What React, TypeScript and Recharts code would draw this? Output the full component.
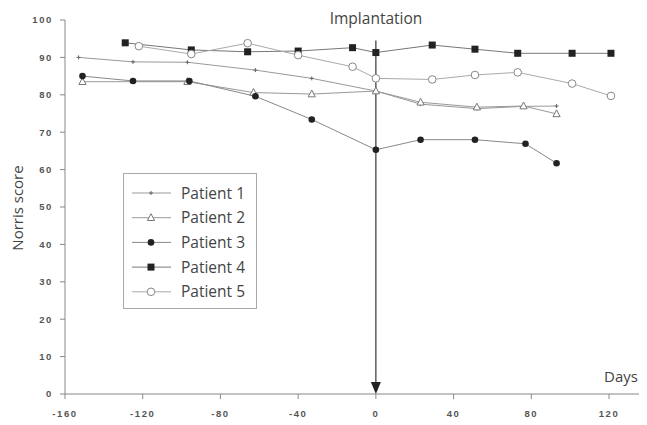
import React from "react"
import { LineChart, Line, XAxis, YAxis, ReferenceLine, ReferenceDot, Legend } from "recharts"

// days relative to implantation, Norris score
const p1Days = [-153, -125, -97, -62, -33, 0, 23, 52, 76, 93]
const p1Scores = [90, 88.8, 88.7, 86.6, 84.4, 81, 77.5, 76.3, 76.9, 77]

const p2Days = [-151, -97, -63, -33, 0, 23, 52, 76, 93]
const p2Scores = [83.5, 83.5, 80.6, 80.2, 81, 78, 76.7, 77, 74.9]

const p3Days = [-151, -125, -96, -62, -33, 0, 23, 51, 77, 93]
const p3Scores = [85, 83.7, 83.7, 79.6, 73.4, 65.3, 68, 68, 66.9, 61.7]

const p4Days = [-129, -95, -66, -40, -12, 0, 29, 51, 73, 101, 121]
const p4Scores = [93.9, 92, 91.5, 91.7, 92.6, 91.3, 93.3, 92.2, 91.1, 91.1, 91.1]

const p5Days = [-122, -95, -66, -40, -12, 0, 29, 51, 73, 101, 121]
const p5Scores = [93, 90.9, 93.8, 90.6, 87.5, 84.4, 84.1, 85.3, 86, 83, 79.7]

const xTicks = [-160, -120, -80, -40, 0, 40, 80, 120]
const yTicks = [0, 10, 20, 30, 40, 50, 60, 70, 80, 90, 100]

const toPoints = (days: number[], scores: number[]) => days.map((d, i) => ({ day: d, score: scores[i] }))

const dark = "#222"

const Cross = ({ cx, cy }: any) => (
  <g>
    <line x1={cx - 2} x2={cx + 2} y1={cy} y2={cy} stroke="#666" strokeWidth={1} />
    <line x1={cx} x2={cx} y1={cy - 2} y2={cy + 2} stroke="#666" strokeWidth={1} />
  </g>
)
const Triangle = ({ cx, cy }: any) => (
  <polygon points={`${cx},${cy - 4} ${cx - 3.6},${cy + 2.8} ${cx + 3.6},${cy + 2.8}`} fill="#fff" stroke="#777" strokeWidth={1} />
)
const Dot = ({ cx, cy }: any) => <circle cx={cx} cy={cy} r={3.3} fill={dark} />
const Square = ({ cx, cy }: any) => <rect x={cx - 3.5} y={cy - 3.5} width={7} height={7} fill={dark} />
const Ring = ({ cx, cy }: any) => <circle cx={cx} cy={cy} r={3.8} fill="#fff" stroke="#888" strokeWidth={1} />

const series = [
  { name: "Patient 1", data: toPoints(p1Days, p1Scores), color: "#999", Mark: Cross },
  { name: "Patient 2", data: toPoints(p2Days, p2Scores), color: "#999", Mark: Triangle },
  { name: "Patient 3", data: toPoints(p3Days, p3Scores), color: "#888", Mark: Dot },
  { name: "Patient 4", data: toPoints(p4Days, p4Scores), color: "#777", Mark: Square },
  { name: "Patient 5", data: toPoints(p5Days, p5Scores), color: "#aaa", Mark: Ring },
]

const tickStyle = { fontFamily: "Liberation Sans", fontWeight: 700, fontSize: 9.5, fill: "#555", letterSpacing: 1.6 }
const textFont = "'Open Sans', sans-serif"

const LegendBox = () => (
  <div style={{ width: 134, height: 136, border: "1px solid #aaa", boxSizing: "border-box", background: "#fff" }}>
    <svg width={132} height={134}>
      {series.map((s, i) => {
        const y = 19 + i * 24.7
        const M = s.Mark
        return (
          <g key={s.name}>
            <line x1={8} x2={47} y1={y} y2={y} stroke={s.color} strokeWidth={1} />
            <M cx={27} cy={y} />
            <text x={57} y={y + 5.5} fontFamily={textFont} fontSize={15.5} fill="#444">
              {s.name}
            </text>
          </g>
        )
      })}
    </svg>
  </div>
)

const ArrowHead = ({ cx, cy }: any) => (
  <polygon points={`${cx},${cy} ${cx - 5},${cy - 12} ${cx + 5},${cy - 12}`} fill={dark} />
)

export default function App() {
  return (
    <div style={{ position: "relative", width: 647, height: 425, margin: -8, background: "#fff" }}>
      <LineChart width={647} height={425} margin={{ top: 20, right: 3, left: 0, bottom: 0 }}>
        <XAxis
          type="number"
          dataKey="day"
          domain={[-160, 138]}
          ticks={xTicks}
          allowDataOverflow
          height={31}
          stroke="#888"
          tickSize={5}
          tickMargin={11}
          tick={tickStyle}
        />
        <YAxis
          type="number"
          dataKey="score"
          domain={[0, 100]}
          ticks={yTicks}
          width={65}
          stroke="#888"
          tickSize={5}
          tickMargin={7}
          tick={tickStyle}
        />
        <ReferenceLine
          segment={[{ x: 0, y: 94.5 }, { x: 0, y: 2 }]}
          stroke="#333"
          strokeWidth={1.2}
        />
        <ReferenceDot x={0} y={0} r={0} shape={ArrowHead} />
        {series.map((s) => (
          <Line
            key={s.name}
            name={s.name}
            data={s.data}
            dataKey="score"
            type="linear"
            stroke={s.color}
            strokeWidth={1}
            dot={(p: any) => <s.Mark key={`${s.name}-${p.index}`} cx={p.cx} cy={p.cy} />}
            isAnimationActive={false}
          />
        ))}
        <Legend
          layout="vertical"
          align="center"
          verticalAlign="middle"
          content={() => <LegendBox />}
          wrapperStyle={{ left: 123, top: 173, width: 134, height: 136 }}
        />
      </LineChart>
      <div style={{ position: "absolute", left: 316, top: 7, width: 120, textAlign: "center", fontFamily: textFont, fontSize: 15.5, color: "#444" }}>
        Implantation
      </div>
      <div style={{ position: "absolute", left: 604, top: 366, fontFamily: textFont, fontSize: 15, color: "#444" }}>
        Days
      </div>
      <div
        style={{
          position: "absolute",
          left: 17,
          top: 208,
          transform: "translate(-50%, -50%) rotate(-90deg)",
          whiteSpace: "nowrap",
          fontFamily: textFont,
          fontSize: 15,
          color: "#444",
        }}
      >
        Norris score
      </div>
    </div>
  )
}
